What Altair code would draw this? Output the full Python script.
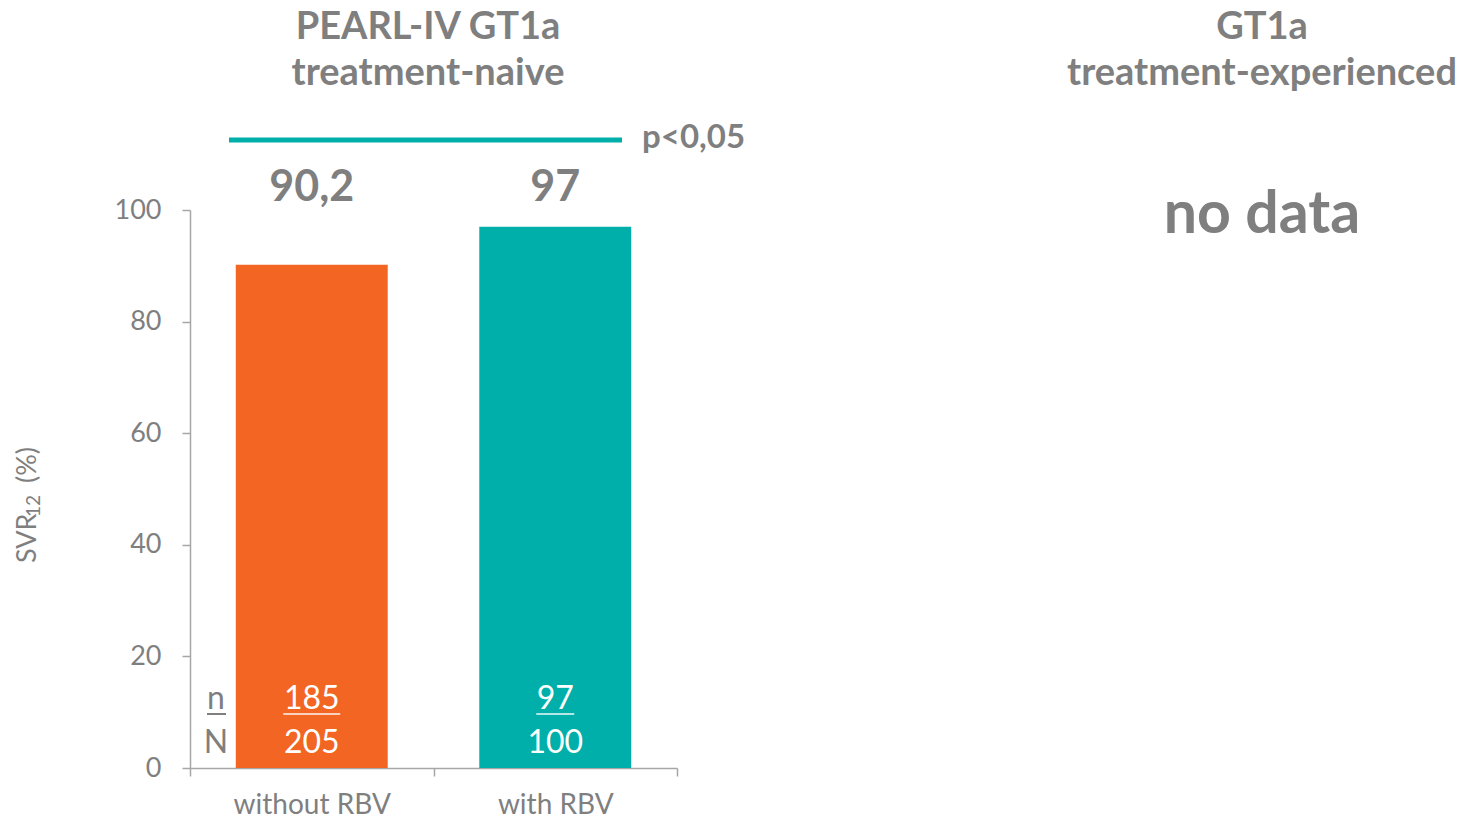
import altair as alt
import pandas as pd

groups = ["without RBV", "with RBV"]
svr = [90.2, 97]
svr_labels = ["90,2", "97"]
n_vals = ["185", "97"]
N_vals = ["205", "100"]
bar_colors = ["#F26522", "#00AFAA"]

FONT = "Lato"
GRAY = "#7F7F7F"
AXGRAY = "#A6A6A6"
TEAL = "#00AFAA"

df = pd.DataFrame({"group": groups, "svr": svr, "label": svr_labels,
                   "n": n_vals, "N": N_vals})

xenc = alt.X("group:N", sort=groups,
             scale=alt.Scale(paddingInner=0, paddingOuter=0),
             axis=alt.Axis(title=None, labelAngle=0, labelFontSize=28, labelFont=FONT,
                           labelColor=GRAY, domainColor=AXGRAY, tickColor=AXGRAY,
                           tickSize=8, tickBand="extent", labelPadding=15, domainWidth=1.5,
                           tickWidth=1.5))

base = alt.Chart(df)

bars = base.mark_bar(width=alt.RelativeBandSize(0.624)).encode(
    x=xenc,
    y=alt.Y("svr:Q", scale=alt.Scale(domain=[0, 100]),
            axis=alt.Axis(title=None, values=[0, 20, 40, 60, 80, 100], grid=False,
                          labelFontSize=27, labelFont=FONT, labelColor=GRAY,
                          domainColor=AXGRAY, tickColor=AXGRAY, tickSize=8,
                          labelPadding=21, domainWidth=1.5, tickWidth=1.5)),
    color=alt.Color("group:N", sort=groups,
                    scale=alt.Scale(domain=groups, range=bar_colors), legend=None),
)

value_text = base.mark_text(fontSize=43, fontWeight="bold", font=FONT, color=GRAY,
                            baseline="middle").encode(
    x=alt.X("group:N", sort=groups), y=alt.value(-22), text="label:N")

n_text = base.mark_text(fontSize=32, font=FONT, color="white", baseline="middle").encode(
    x=alt.X("group:N", sort=groups), y=alt.value(489), text="n:N")
N_text = base.mark_text(fontSize=32, font=FONT, color="white", baseline="middle").encode(
    x=alt.X("group:N", sort=groups), y=alt.value(533), text="N:N")
n_under = base.mark_tick(orient="horizontal", thickness=2, color="white").transform_calculate(
    w="length(datum.n) * 19").encode(
    x=alt.X("group:N", sort=groups), y=alt.value(504), size=alt.Size("w:Q", scale=None))

side = pd.DataFrame({"t": ["n", "N"], "yy": [489, 533]})
side_text = alt.Chart(side).mark_text(fontSize=32, font=FONT, color=GRAY,
                                      baseline="middle").encode(
    x=alt.value(26), y=alt.Y("yy:Q", scale=None), text="t:N")
side_under = alt.Chart(pd.DataFrame({"a": [1]})).mark_rule(color=GRAY, strokeWidth=2).encode(
    x=alt.value(17), x2=alt.value(36), y=alt.value(504))

sig_line = alt.Chart(pd.DataFrame({"a": [1]})).mark_rule(color=TEAL, strokeWidth=5).encode(
    x=alt.value(39), x2=alt.value(432), y=alt.value(-70))
sig_text = alt.Chart(pd.DataFrame({"t": ["p<0,05"]})).mark_text(
    fontSize=33, fontWeight="bold", font=FONT, color=GRAY, align="left", baseline="middle").encode(
    x=alt.value(452), y=alt.value(-72), text="t:N")

titles = pd.DataFrame({
    "t": ["PEARL-IV GT1a", "treatment-naive", "GT1a", "treatment-experienced"],
    "xx": [238, 238, 1072, 1072],
    "yy": [-182, -136, -182, -136],
})
title_text = alt.Chart(titles).mark_text(fontSize=38, fontWeight="bold", font=FONT, color=GRAY,
                                         baseline="middle").encode(
    x=alt.X("xx:Q", scale=None), y=alt.Y("yy:Q", scale=None), text="t:N")

nodata = alt.Chart(pd.DataFrame({"t": ["no data"]})).mark_text(
    fontSize=59, fontWeight="bold", font=FONT, color=GRAY, baseline="middle").encode(
    x=alt.value(1072), y=alt.value(5), text="t:N")

ytitle = pd.DataFrame({"t": ["SVR", "12", "(%)"], "xx": [-162, -156, -162],
                       "yy": [353, 307, 237], "fs": [27, 19, 27],
                       "al": ["left", "left", "right"]})
ytitle_main = alt.Chart(ytitle).transform_filter("datum.al == 'left'").mark_text(
    font=FONT, color=GRAY, angle=270, align="left", baseline="middle").encode(
    x=alt.X("xx:Q", scale=None), y=alt.Y("yy:Q", scale=None), text="t:N",
    size=alt.Size("fs:Q", scale=None))
ytitle_end = alt.Chart(ytitle).transform_filter("datum.al == 'right'").mark_text(
    font=FONT, color=GRAY, angle=270, align="right", baseline="middle").encode(
    x=alt.X("xx:Q", scale=None), y=alt.Y("yy:Q", scale=None), text="t:N",
    size=alt.Size("fs:Q", scale=None))

chart = alt.layer(bars, value_text, n_under, n_text, N_text, side_text, side_under,
                  sig_line, sig_text, title_text, nodata, ytitle_main, ytitle_end).properties(
    width=487, height=558,
    autosize=alt.AutoSizeParams(type="none"),
    padding={"left": 190, "top": 210, "right": 795, "bottom": 54},
).configure(background="white").configure_view(stroke=None)

chart.save("out.html", embed_options={"renderer": "svg", "actions": False})
